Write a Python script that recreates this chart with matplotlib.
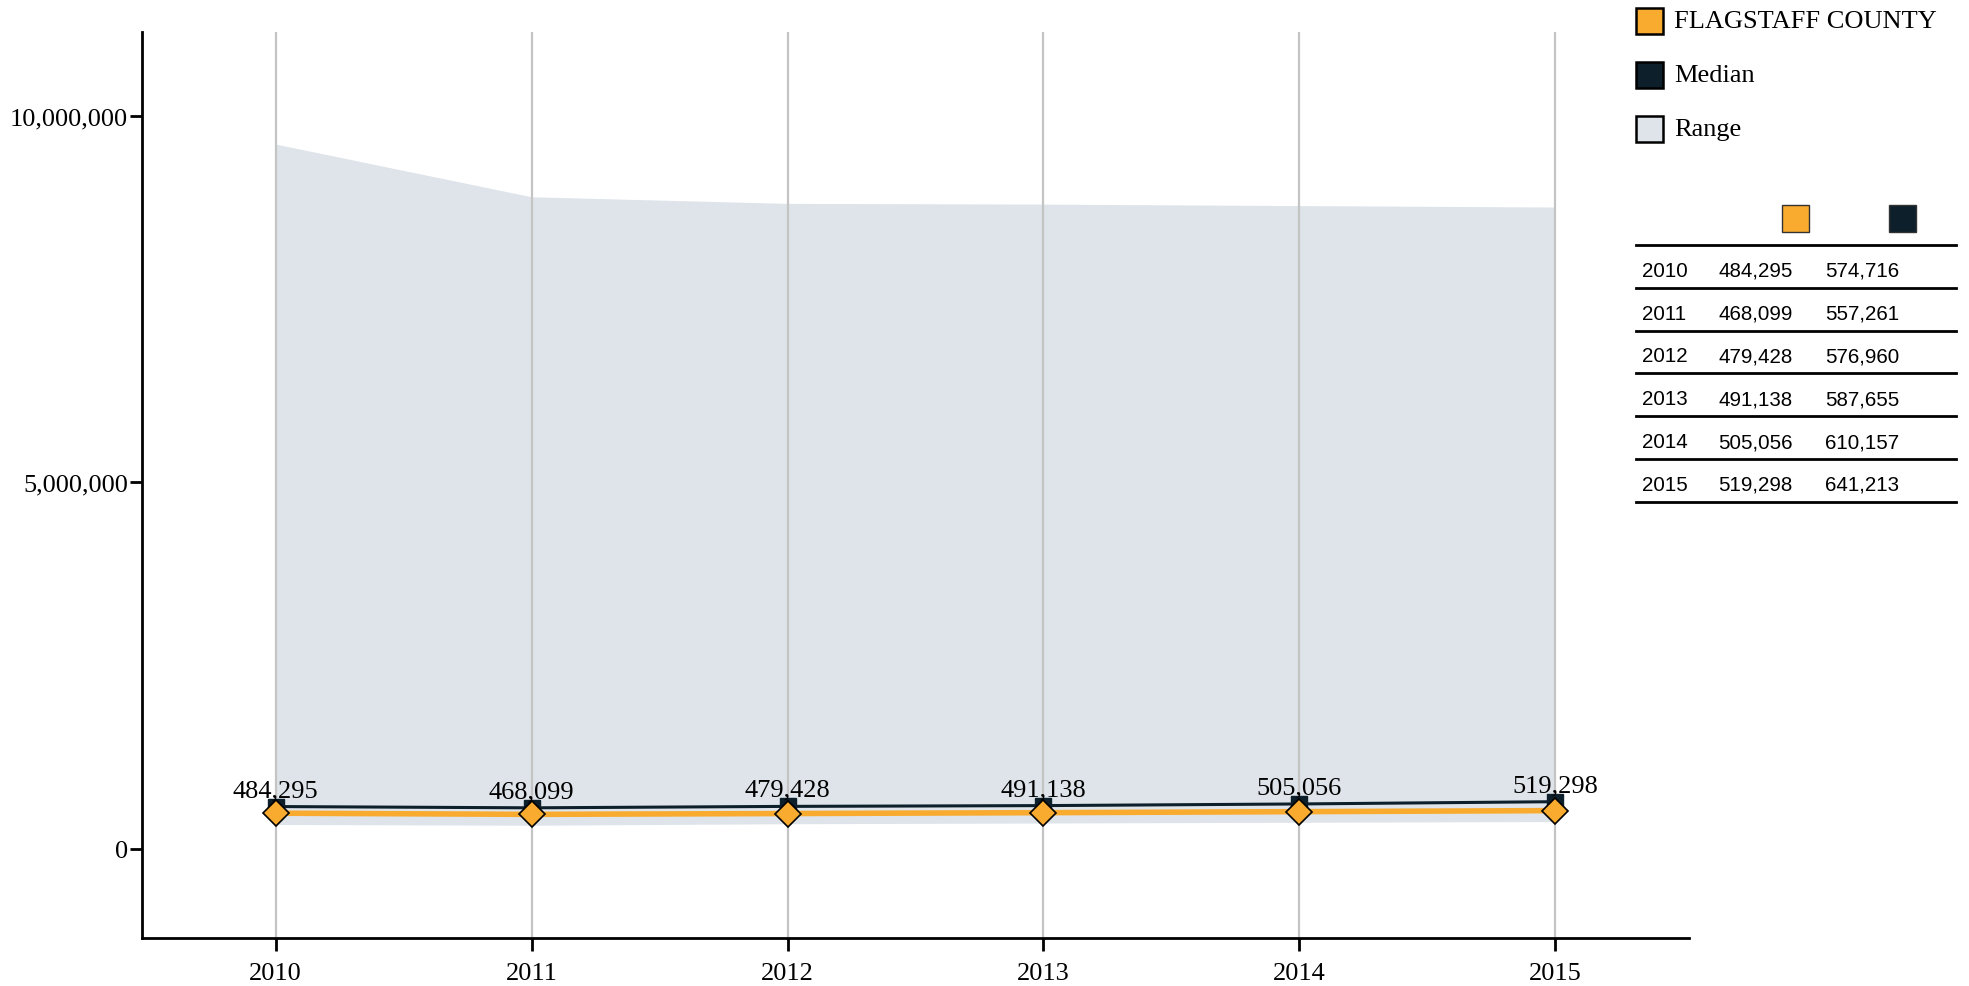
import numpy as np
import matplotlib
matplotlib.use('Agg')
import matplotlib.pyplot as plt
from matplotlib.patches import Rectangle
from matplotlib.lines import Line2D

years = [2010, 2011, 2012, 2013, 2014, 2015]
county = [484295, 468099, 479428, 491138, 505056, 519298]
median = [574716, 557261, 576960, 587655, 610157, 641213]
range_hi = [9620000, 8900000, 8810000, 8800000, 8780000, 8760000]
range_lo = [330000, 320000, 340000, 350000, 360000, 370000]

ORANGE = '#F9AB2F'
DARK = '#0D1F2A'
RANGE = '#DEE4EA'
SERIF = ['Liberation Serif', 'DejaVu Serif']
SANS = ['Liberation Sans', 'DejaVu Sans']

fig = plt.figure(figsize=(19.69, 9.87), dpi=100)
ax = fig.add_axes([142 / 1969, 1 - 939 / 987, (1689 - 142) / 1969, (939 - 33) / 987])

ax.fill_between(years, range_lo, range_hi, color=RANGE, lw=0, zorder=1)
for y in years:
    ax.axvline(y, color='#C4C4C4', lw=1.6, zorder=2)
ax.plot(years, median, color=DARK, lw=2.2, marker='s', ms=12, mfc=DARK, mec=DARK, zorder=3)
ax.plot(years, county, color=ORANGE, lw=4, marker='D', ms=13, mfc=ORANGE,
        mec='black', mew=1.2, zorder=4)

# labels show county values, sitting just above the median marker
for x, m, c in zip(years, median, county):
    ax.annotate(f'{c:,}', (x, m), xytext=(0, 4), textcoords='offset points',
                ha='center', va='bottom', fontsize=19, family=SERIF, zorder=5)

ax.set_xlim(2009.478, 2015.522)
ax.set_ylim(-1220000, 11150000)
ax.set_xticks(years)
ax.set_xticklabels([str(y) for y in years])
ax.set_yticks([0, 5000000, 10000000])
ax.set_yticklabels(['0', '5,000,000', '10,000,000'])
for lab in ax.get_xticklabels() + ax.get_yticklabels():
    lab.set_fontfamily(SERIF)
    lab.set_fontsize(19)
ax.tick_params(axis='x', length=9, width=2, pad=8)
ax.tick_params(axis='y', length=9, width=2, pad=1)
for s in ['top', 'right']:
    ax.spines[s].set_visible(False)
for s in ['left', 'bottom']:
    ax.spines[s].set_linewidth(2)

# legend
leg_items = [('FLAGSTAFF COUNTY', ORANGE), ('Median', DARK), ('Range', RANGE)]
for i, (name, col) in enumerate(leg_items):
    yc = 1 - (22 + i * 54) / 987
    fig.patches.append(Rectangle((1636 / 1969, yc - 13 / 987), 27 / 1969, 26 / 987,
                                 transform=fig.transFigure, facecolor=col,
                                 edgecolor='black', lw=1.8))
    fig.text(1674 / 1969, yc, name, fontsize=19, family=SERIF, va='center', ha='left')

# table
fig.patches.append(Rectangle((1782 / 1969, 1 - 233 / 987), 27 / 1969, 27 / 987,
                             transform=fig.transFigure, facecolor=ORANGE,
                             edgecolor='#333333', lw=1))
fig.patches.append(Rectangle((1889 / 1969, 1 - 233 / 987), 27 / 1969, 27 / 987,
                             transform=fig.transFigure, facecolor=DARK,
                             edgecolor='#333333', lw=1))
row_h = 42.8
top = 246
for i in range(len(years) + 1):
    yl = 1 - (top + i * row_h) / 987
    fig.add_artist(Line2D([1636 / 1969, 1956 / 1969], [yl, yl], color='black', lw=2))
for i, (y, c, m) in enumerate(zip(years, county, median)):
    yt = 1 - (top + i * row_h + row_h / 2 + 4) / 987
    fig.text(1642 / 1969, yt, str(y), fontsize=14.8, family=SANS, va='center')
    fig.text(1718 / 1969, yt, f'{c:,}', fontsize=14.8, family=SANS, va='center')
    fig.text(1825 / 1969, yt, f'{m:,}', fontsize=14.8, family=SANS, va='center')

fig.savefig('out.png', dpi=100)
